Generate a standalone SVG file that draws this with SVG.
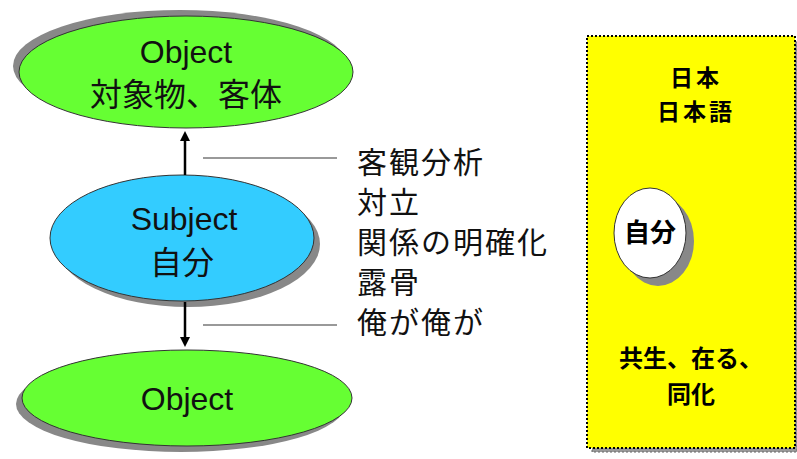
<svg xmlns="http://www.w3.org/2000/svg" width="797" height="459" viewBox="0 0 797 459">
<style>
.sh{fill:#888}
.ob{fill:#66FF33;stroke:#333;stroke-width:1}
.sb{fill:#33CCFF;stroke:#333;stroke-width:1}
.t{font-family:"Liberation Sans","Noto Sans CJK JP",sans-serif;font-size:32px;fill:#111;text-anchor:middle}
.r{font-family:"Noto Sans CJK JP",sans-serif;font-size:30px;letter-spacing:2px;fill:#111}
.b{font-family:"Noto Sans CJK JP",sans-serif;font-size:26px;font-weight:bold;fill:#000;text-anchor:middle}
.ln{stroke:#777;stroke-width:1.5}
.ar{stroke:#000;stroke-width:2.5;fill:none}
</style>
<defs>
<marker id="ah" markerWidth="10" markerHeight="10" refX="5" refY="5" orient="auto" markerUnits="userSpaceOnUse" viewBox="0 0 10 10">
<path d="M0,0 L10,5 L0,10 z" fill="#000"/>
</marker>
</defs>
<rect width="797" height="459" fill="#fff"/>
<g id="box">
<rect x="592" y="42" width="205" height="410" fill="#999" stroke="#666" stroke-dasharray="2,2"/>
<rect x="587" y="36" width="208" height="412" fill="#FFFF00" stroke="#000" stroke-width="2" stroke-dasharray="2,2"/>
<text class="b" style="font-size:23px;letter-spacing:3px"><tspan x="696" y="86">日本</tspan><tspan x="696" dy="34">日本語</tspan></text>
<text class="b" style="font-size:24px"><tspan x="691" y="367">共生、在る、</tspan><tspan x="691" dy="36">同化</tspan></text>
</g>
<g id="jibun">
<ellipse class="sh" cx="658" cy="241" rx="36" ry="45"/>
<ellipse cx="650" cy="233" rx="36" ry="45" fill="#fff" stroke="#333"/>
<text class="b" x="650" y="242">自分</text>
</g>
<g id="object-top">
<ellipse class="sh" cx="180" cy="66" rx="167" ry="56"/>
<ellipse class="ob" cx="186" cy="72" rx="167" ry="56"/>
<text class="t" x="186" y="63">Object</text>
<text class="t" x="186" y="106">対象物、客体</text>
</g>
<g id="subject">
<ellipse class="sh" cx="188" cy="244" rx="132" ry="63"/>
<ellipse class="sb" cx="182" cy="238" rx="132" ry="63"/>
<text class="t" x="184" y="230">Subject</text>
<text class="t" x="182" y="274">自分</text>
</g>
<g id="object-bottom">
<ellipse class="sh" cx="181" cy="404" rx="165" ry="48"/>
<ellipse class="ob" cx="187" cy="398" rx="165" ry="48"/>
<text class="t" x="187" y="410">Object</text>
</g>
<g id="connectors">
<line class="ar" x1="185" y1="175" x2="185" y2="136" marker-end="url(#ah)"/>
<line class="ar" x1="185" y1="302" x2="185" y2="342" marker-end="url(#ah)"/>
<line class="ln" x1="203" y1="158" x2="337" y2="158"/>
<line class="ln" x1="203" y1="325" x2="337" y2="325"/>
</g>
<g id="labels">
<text class="r"><tspan x="357" y="173">客観分析</tspan><tspan x="357" dy="40">対立</tspan><tspan x="357" dy="40">関係の明確化</tspan><tspan x="357" dy="40">露骨</tspan><tspan x="357" dy="40">俺が俺が</tspan></text>
</g>
</svg>
